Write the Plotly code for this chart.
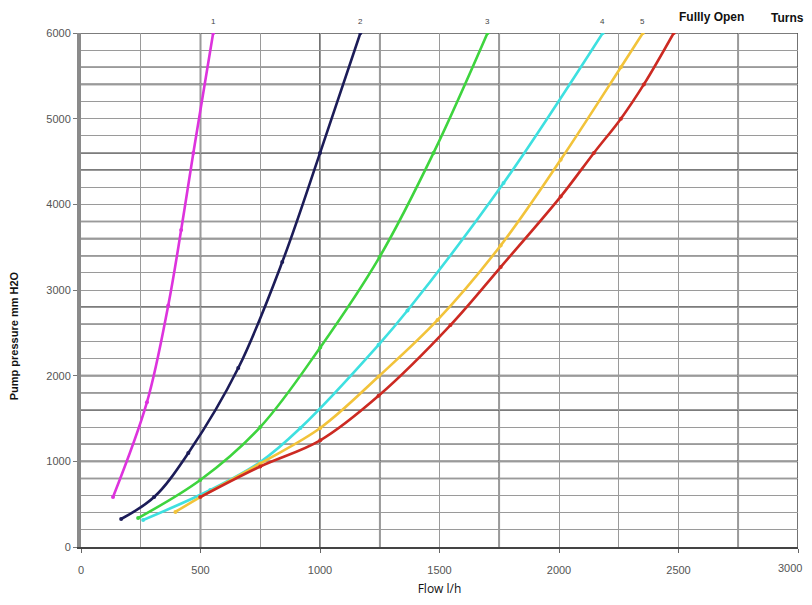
import plotly.graph_objects as go

# ---------------- data ----------------
flow_1 = [134, 276, 365, 419, 470, 553]
pres_1 = [583, 1690, 2820, 3700, 4600, 6000]

flow_2 = [168, 306, 449, 658, 842, 1000, 1169]
pres_2 = [327, 583, 1097, 2089, 3326, 4598, 6000]

flow_3 = [239, 499, 750, 1001, 1249, 1475, 1701]
pres_3 = [338, 782, 1400, 2330, 3384, 4600, 6000]

flow_4 = [260, 541, 750, 918, 1245, 1366, 1768, 2183]
pres_4 = [315, 665, 992, 1389, 2360, 2760, 4248, 6000]

flow_5 = [395, 499, 750, 1001, 1245, 1492, 1756, 2007, 2259, 2351]
pres_5 = [410, 583, 975, 1389, 1990, 2650, 3520, 4520, 5600, 6000]

flow_open = [499, 750, 1001, 1245, 1546, 1756, 2007, 2146, 2259, 2355, 2480]
pres_open = [583, 940, 1245, 1765, 2590, 3268, 4090, 4600, 5000, 5400, 6000]

curve_labels = ["1", "2", "3", "4", "5"]
open_label = "Fullly Open"
turns_label = "Turns"
x_title = "Flow l/h"
y_title = "Pump pressure mm H2O"
x_ticks = [0, 500, 1000, 1500, 2000, 2500, 3000]
y_ticks = [0, 1000, 2000, 3000, 4000, 5000, 6000]

# ---------------- style ----------------
FONT = "Liberation Sans, Arial, sans-serif"
colors = ["#dd33dd", "#1c1c58", "#3ed43e", "#3ee0e0", "#f2c33a", "#cc2a22"]
dark_h_grid = [5600, 5400, 4600, 4400, 3800, 3600, 3400, 2800, 2600,
               2000, 1800, 1600, 1200, 1000, 800, 6000]
dark_v_grid = [500, 1000, 1250, 1750, 2750, 3000]

series = [(flow_1, pres_1), (flow_2, pres_2), (flow_3, pres_3),
          (flow_4, pres_4), (flow_5, pres_5), (flow_open, pres_open)]

fig = go.Figure()
for i, (fx, py) in enumerate(series):
    fig.add_trace(go.Scatter(
        x=fx, y=py, mode="lines+markers",
        line=dict(color=colors[i], width=2.6, shape="spline", smoothing=1.0),
        marker=dict(color=colors[i], size=4),
        showlegend=False, hoverinfo="x+y"))

shapes = []
for v in dark_h_grid:
    shapes.append(dict(type="line", xref="paper", x0=0, x1=1, yref="y", y0=v, y1=v,
                       line=dict(color="#505050", width=1.6), layer="below"))
for v in dark_v_grid:
    shapes.append(dict(type="line", yref="paper", y0=0, y1=1, xref="x", x0=v, x1=v,
                       line=dict(color="#505050", width=1.6), layer="below"))

annotations = []
for lab, (fx, py) in zip(curve_labels, series[:5]):
    annotations.append(dict(x=fx[-1], y=py[-1], xref="x", yref="y", text=lab,
                            showarrow=False, yshift=12,
                            font=dict(family=FONT, size=8, color="#444")))
annotations.append(dict(x=flow_open[-1], y=pres_open[-1], xref="x", yref="y",
                        text="<b>" + open_label + "</b>", showarrow=False,
                        xanchor="left", xshift=3, yshift=16,
                        font=dict(family=FONT, size=12, color="#111")))
annotations.append(dict(x=1.0, y=1.0, xref="paper", yref="paper",
                        text="<b>" + turns_label + "</b>", showarrow=False,
                        xanchor="right", yanchor="bottom", xshift=8, yshift=6,
                        font=dict(family=FONT, size=12, color="#111")))
annotations.append(dict(x=0, y=0.41, xref="paper", yref="paper",
                        text="<b>" + y_title + "</b>", showarrow=False,
                        textangle=-90, xanchor="center", yanchor="middle", xshift=-67,
                        font=dict(family=FONT, size=11, color="#111")))
# last x tick label placed inside the page edge so it is not cut
annotations.append(dict(x=x_ticks[-1], y=0, xref="x", yref="y", text=str(x_ticks[-1]),
                        showarrow=False, xanchor="right", yanchor="top",
                        xshift=6, yshift=-13,
                        font=dict(family=FONT, size=11, color="#555")))
x_ticktext = [str(v) for v in x_ticks[:-1]] + [""]

fig.update_layout(
    width=796, height=589,
    margin=dict(l=73, r=6, t=25, b=50),
    plot_bgcolor="white", paper_bgcolor="white",
    shapes=shapes, annotations=annotations,
    xaxis=dict(range=[0, 3000], tickvals=x_ticks, ticktext=x_ticktext,
               ticks="outside", ticklen=4, ticklabelstandoff=8,
               tickcolor="#666", automargin=False,
               showgrid=True, gridcolor="#9a9a9a", gridwidth=1.2,
               minor=dict(dtick=250, showgrid=True, gridcolor="#9a9a9a", gridwidth=1.2),
               zeroline=False, showline=True, linecolor="#444", linewidth=1.6,
               tickfont=dict(family=FONT, size=11, color="#555"),
               title=dict(text=x_title, standoff=12,
                          font=dict(family="Open Sans, Liberation Sans", size=12, color="#111"))),
    yaxis=dict(range=[0, 6000], tickvals=y_ticks, ticks="outside", ticklen=4,
               tickcolor="#777", automargin=False,
               showgrid=True, gridcolor="#9a9a9a", gridwidth=1.2,
               minor=dict(dtick=200, showgrid=True, gridcolor="#9a9a9a", gridwidth=1.2),
               zeroline=False, showline=True, linecolor="#8a8a8a", linewidth=4,
               tickfont=dict(family=FONT, size=11, color="#555")),
)

fig.write_html("out.html")
